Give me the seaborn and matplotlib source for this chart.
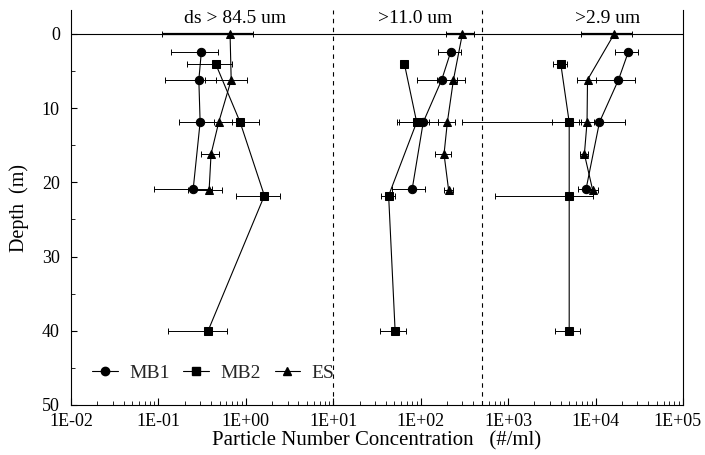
import numpy as np
import pandas as pd
import matplotlib
matplotlib.use("Agg")
import matplotlib.pyplot as plt
import matplotlib.transforms as mtransforms
import seaborn as sns
from matplotlib.lines import Line2D
from matplotlib.ticker import LogLocator, FixedLocator, NullFormatter, MultipleLocator, FixedFormatter

# ---------------- data ----------------
size_classes = ["ds > 84.5 um", ">11.0 um", ">2.9 um"]
series_names = ["MB1", "MB2", "ES"]

# depths (m)
mb1_depth = [2.4, 6.2, 11.9, 20.9]
mb2_depth = [4.0, 11.9, 21.8, 40.0]
es_depth = [0.0, 6.2, 11.9, 16.2, 21.1]

# ds > 84.5 um
g1_mb1 = [0.31, 0.29, 0.30, 0.25]
g1_mb1_err = [0.17, 0.17, 0.13, 0.16]
g1_mb2 = [0.45, 0.86, 1.63, 0.37]
g1_mb2_err = [0.24, 0.56, 0.85, 0.24]
g1_es = [0.66, 0.68, 0.49, 0.40, 0.38]
g1_es_err = [0.55, 0.34, 0.20, 0.09, 0.16]

# > 11.0 um
g2_mb1 = [221, 174, 107, 80]
g2_mb1_err = [65, 84, 50, 33]
g2_mb2 = [65, 90, 43, 51]
g2_mb2_err = [4, 36, 8, 17]
g2_es = [300, 237, 202, 185, 209]
g2_es_err = [105, 85, 45, 40, 25]

# > 2.9 um
g3_mb1 = [23800, 18300, 11100, 7800]
g3_mb1_err = [7000, 10000, 10800, 1500]
g3_mb2 = [4000, 5000, 5000, 5000]
g3_mb2_err = [700, 1800, 4300, 1600]
g3_es = [16400, 8100, 8000, 7460, 9300]
g3_es_err = [9500, 1900, 1500, 800, 1500]

xtick_vals = [1e-2, 1e-1, 1e0, 1e1, 1e2, 1e3, 1e4, 1e5]
xtick_labels = ["1E-02", "1E-01", "1E+00", "1E+01", "1E+02", "1E+03", "1E+04", "1E+05"]
ytick_vals = [0, 10, 20, 30, 40, 50]
divider_vals = [10, 500]

# ---------------- build table ----------------
rows = []
groups = [
    (size_classes[0], (g1_mb1, g1_mb1_err), (g1_mb2, g1_mb2_err), (g1_es, g1_es_err)),
    (size_classes[1], (g2_mb1, g2_mb1_err), (g2_mb2, g2_mb2_err), (g2_es, g2_es_err)),
    (size_classes[2], (g3_mb1, g3_mb1_err), (g3_mb2, g3_mb2_err), (g3_es, g3_es_err)),
]
depths = {"MB1": mb1_depth, "MB2": mb2_depth, "ES": es_depth}
for gname, mb1, mb2, es in groups:
    for sname, (vals, errs) in zip(series_names, [mb1, mb2, es]):
        for d, v, e in zip(depths[sname], vals, errs):
            rows.append(dict(group=gname, series=sname, depth=d, conc=v, err=e))
df = pd.DataFrame(rows)

# ---------------- plot ----------------
sns.set_theme(style="white")
plt.rcParams["font.family"] = ["Liberation Serif", "DejaVu Serif"]

fig = plt.figure(figsize=(7.05, 4.55), dpi=100)
ax = fig.add_axes([0.1007, 0.1099, 0.868, 0.868])

markers = {"MB1": "o", "MB2": "s", "ES": "^"}

# error bars
for _, r in df.iterrows():
    lw = 1.6 if r["depth"] == 0 else 0.7
    ax.errorbar(r["conc"], r["depth"], xerr=r["err"], fmt="none", ecolor="black",
                elinewidth=lw, capsize=2, capthick=0.7, zorder=2)

sns.lineplot(data=df, x="conc", y="depth", style="series", units="group",
             estimator=None, orient="y", sort=True, markers=markers, dashes=False,
             color="black", linewidth=0.8, markersize=6, markeredgecolor="black",
             legend=False, ax=ax, zorder=3)

ax.set_xscale("log")
ax.set_xlim(1e-2, 1e5)
ax.set_ylim(50, -3.2)

ax.axhline(0, color="black", lw=0.8, zorder=1)
for xv in divider_vals:
    ax.axvline(xv, color="black", lw=0.8, ls=(0, (4, 4)), zorder=1)

ax.xaxis.set_major_locator(FixedLocator(xtick_vals))
ax.xaxis.set_major_formatter(FixedFormatter(xtick_labels))
ax.xaxis.set_minor_locator(LogLocator(base=10, subs=np.arange(2, 10)))
ax.xaxis.set_minor_formatter(NullFormatter())
ax.yaxis.set_major_locator(FixedLocator(ytick_vals))
ax.yaxis.set_minor_locator(MultipleLocator(5))

ax.tick_params(axis="both", which="both", direction="in", colors="black",
               labelsize=13, top=False, right=False)
ax.tick_params(axis="x", which="major", length=5, width=0.8, bottom=True, pad=6)
ax.tick_params(axis="x", which="minor", length=3, width=0.6, bottom=True)
ax.tick_params(axis="y", which="major", length=4, width=0.8, left=True, pad=8)
ax.tick_params(axis="y", which="minor", length=3, width=0.6, left=True)

for s in ["left", "bottom", "right"]:
    ax.spines[s].set_visible(True)
    ax.spines[s].set_color("black")
    ax.spines[s].set_linewidth(0.8)
ax.spines["top"].set_visible(False)

ax.set_xlabel("Particle Number Concentration   (#/ml)", fontsize=15, color="black", labelpad=1)
ax.set_ylabel("Depth  (m)", fontsize=14.5, color="black", labelpad=9)

# nudge the last x tick label so it stays inside the figure
fig.canvas.draw()
last = ax.get_xticklabels()[-1]
last.set_transform(last.get_transform() + mtransforms.ScaledTranslation(-5 / 100, 0, fig.dpi_scale_trans))

# size-class labels
title_x = [0.75, 86, 13600]
for tx, lab in zip(title_x, size_classes):
    ax.text(tx, -2.0, lab, ha="center", va="center", fontsize=14, color="black")

handles = [Line2D([], [], color="black", lw=0.8, marker=markers[s], markersize=6)
           for s in series_names]
ax.legend(handles, series_names, ncol=3, frameon=False, loc="center left",
          bbox_to_anchor=(0.035, 0.081), borderaxespad=0, borderpad=0,
          handlelength=1.3, handletextpad=0.6, columnspacing=0.7, fontsize=14)

fig.savefig("out.png", dpi=100)
